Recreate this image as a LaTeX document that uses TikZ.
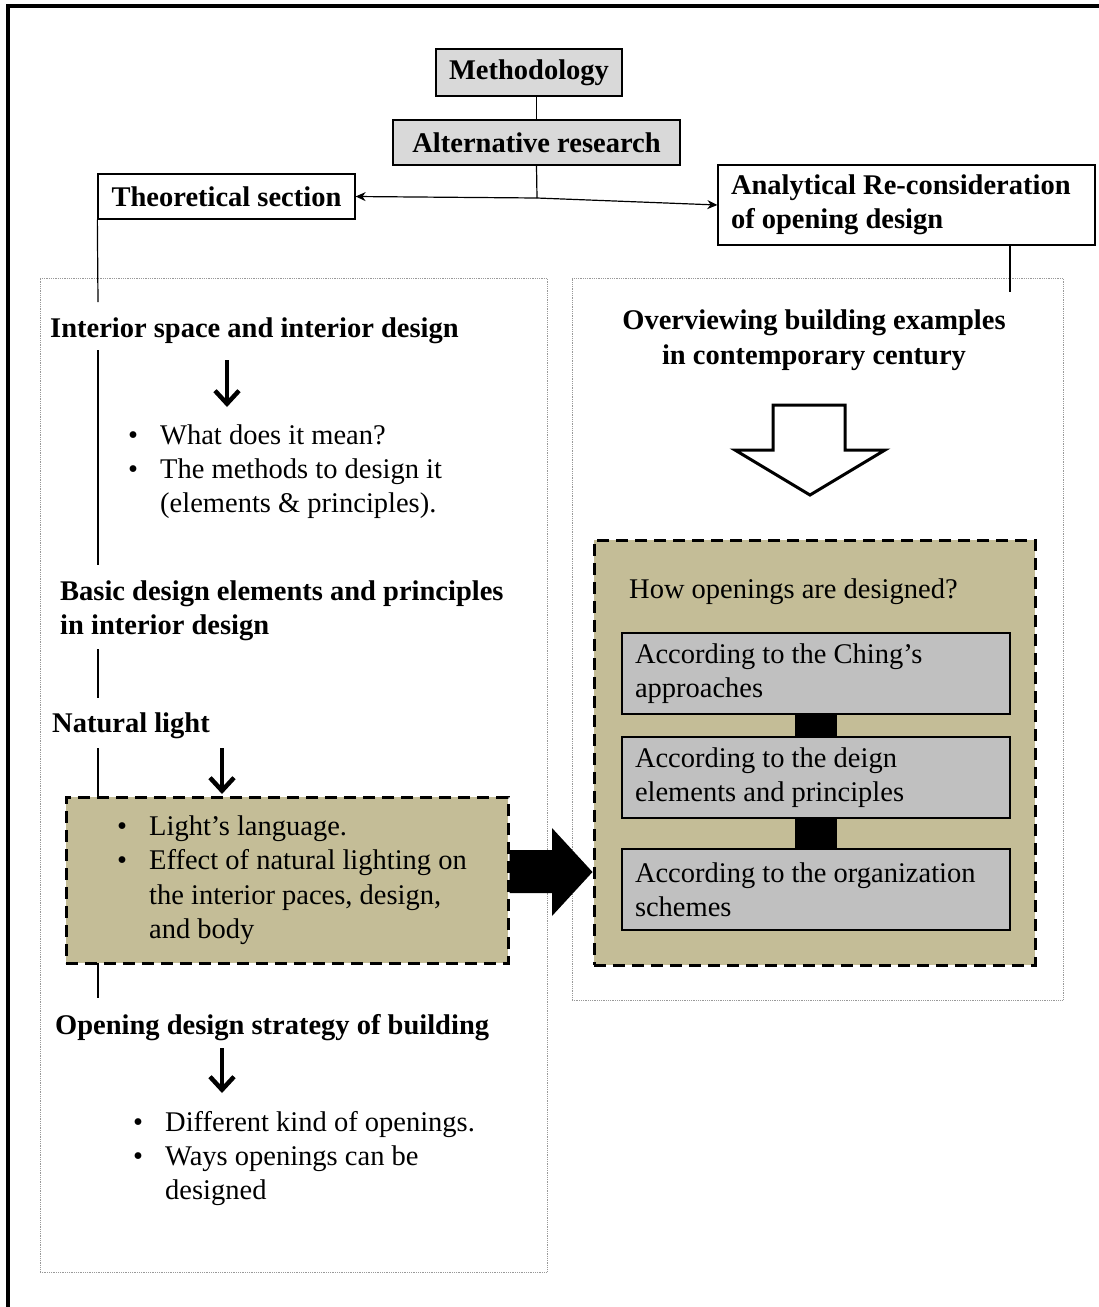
\documentclass[tikz,border=0pt]{standalone}
\usepackage{fontspec}
\setmainfont{Liberation Serif}
\usetikzlibrary{arrows.meta,calc}
\definecolor{tanfill}{HTML}{C4BD97}
\definecolor{boxgray}{HTML}{D9D9D9}
\definecolor{stepgray}{HTML}{C0C0C0}
\newcommand{\blt}{\makebox[32pt][l]{•}}
\begin{document}
\begin{tikzpicture}[x=1pt,y=-1pt,
  txt/.style={font=\fontsize{28.5}{34.5}\selectfont, inner sep=0pt, anchor=base west},
  head/.style={txt, font=\fontsize{28.5}{34.5}\selectfont\bfseries},
  topbox/.style={draw, line width=1.3pt, fill=boxgray, inner sep=0pt,
    font=\fontsize{28.5}{34.5}\selectfont\bfseries},
  stepbox/.style={draw, line width=1.3pt, fill=stepgray, inner sep=0pt,
    minimum width=388, minimum height=81, text width=362, align=flush left,
    font=\fontsize{28.5}{34.5}\selectfont},
  panel/.style={draw=gray!80, densely dotted, line width=0.8pt},
  dashbox/.style={draw, fill=tanfill, line width=3pt, dash pattern=on 12pt off 7pt},
  link/.style={line width=1.2pt},
  thinarr/.style={line width=1.2pt, -{Stealth[length=10pt,width=9pt]}},
  downarr/.style={line width=4.5pt, -{Straight Barb[length=13pt,width=24pt,line width=4.5pt]}}
]
\useasboundingbox (0,0) rectangle (1099,1307);

% outer frame (top and left edges)
\draw[line width=4pt] (7.5,1307) -- (7.5,6) -- (1099,6);

% column panels
\node[panel, minimum width=507, minimum height=994] (lpanel) at (293.5,775) {};
\node[panel, minimum width=491, minimum height=722] (rpanel) at (817.5,639) {};

% header boxes
\node[topbox, minimum width=186, minimum height=47] (meth) at (529,72.5) {\raisebox{-2pt}{Methodology}};
\node[topbox, minimum width=287, minimum height=45] (alt) at (536.5,142.5) {Alternative research};
\node[topbox, fill=white, minimum width=257, minimum height=45] (theo) at (226.5,196.5) {Theoretical section};
\node[topbox, fill=white, minimum width=377, minimum height=80, text width=351, align=flush left] (ana) at (906.5,205)
  {Analytical Re-consideration\\of opening design};

\coordinate (jn) at (537,198);
\draw[link] (alt.north) -- (alt.north |- meth.south);
\draw[link] (alt.south) -- (jn);
\draw[thinarr] (jn) -- (theo.east);
\draw[thinarr] (jn) -- (ana.west);

\coordinate (anastem) at (1010,292);
\draw[link] (anastem |- ana.south) -- (anastem);

% left column: theoretical section
\coordinate (sp0) at (98,302);
\coordinate (sp1a) at (98,350);
\coordinate (sp1b) at (98,565);
\coordinate (sp2a) at (98,649);
\coordinate (sp2b) at (98,698);
\coordinate (sp3a) at (98,748);
\coordinate (sp4a) at (98,963);
\coordinate (sp4b) at (98,998);

\node[dashbox, minimum width=442, minimum height=166] (nlbox) at (287,880) {};

\draw[link] (theo.south west) -- (sp0);
\draw[link] (sp1a) -- (sp1b);
\draw[link] (sp2a) -- (sp2b);
\draw[link] (sp3a) -- (sp3a |- nlbox.north);
\draw[link] (sp4a) -- (sp4b);

\node[head] (int) at (50,337) {Interior space and interior design};
\coordinate (a1s) at (227,360);
\coordinate (a1e) at (227,407);
\draw[downarr] (a1s) -- (a1e);
\node[txt] (intb1) at (128,444) {\blt What does it mean?};
\node[txt] (intb2) at (128,478) {\blt The methods to design it};
\node[txt] (intb3) at (160,512) {(elements \& principles).};

\node[head] (basic1) at (60,600) {Basic design elements and principles};
\node[head] (basic2) at (60,634) {in interior design};

\node[head] (nat) at (52,732) {Natural light};
\coordinate (a2s) at (222,748);
\coordinate (a2e) at (222,794);
\draw[downarr] (a2s) -- (a2e);
\node[txt] (natb1) at (117,835) {\blt Light’s language.};
\node[txt] (natb2) at (117,869) {\blt Effect of natural lighting on};
\node[txt] (natb3) at (149,904) {the interior paces, design,};
\node[txt] (natb4) at (149,938) {and body};

\node[head] (open) at (55,1034) {Opening design strategy of building};
\coordinate (a3s) at (222,1048);
\coordinate (a3e) at (222,1093);
\draw[downarr] (a3s) -- (a3e);
\node[txt] (openb1) at (133,1131) {\blt Different kind of openings.};
\node[txt] (openb2) at (133,1165) {\blt Ways openings can be};
\node[txt] (openb3) at (165,1199) {designed};

% right column: analytical section
\node[head, anchor=base] (over1) at (814,329) {Overviewing building examples};
\node[head, anchor=base] (over2) at (814,364) {in contemporary century};

\draw[line width=3pt, fill=white, line join=miter]
  (773,405) -- (845,405) -- (845,450) -- (885,450) -- (810,495) -- (735,450) -- (773,450) -- cycle;

\node[dashbox, minimum width=441, minimum height=425] (hbox) at (814.5,752.5) {};
\node[txt] (how) at (629,598) {How openings are designed?};
\node[stepbox] (g1) at (816,673.5) {According to the Ching’s\\approaches};
\node[stepbox] (g2) at (816,777.5) {According to the deign\\elements and principles};
\node[stepbox] (g3) at (816,889.5) {According to the organization\\schemes};
\fill ($(g1.south)+(-21,0)$) rectangle ($(g2.north)+(21,0)$);
\fill ($(g2.south)+(-21,0)$) rectangle ($(g3.north)+(21,0)$);

% block arrow from the natural light box to the design box
\fill (nlbox.east |- 0,850) -- (552,850) -- (552,828) -- (hbox.west |- 0,872)
  -- (552,916) -- (552,893) -- (nlbox.east |- 0,893) -- cycle;
\end{tikzpicture}
\end{document}
